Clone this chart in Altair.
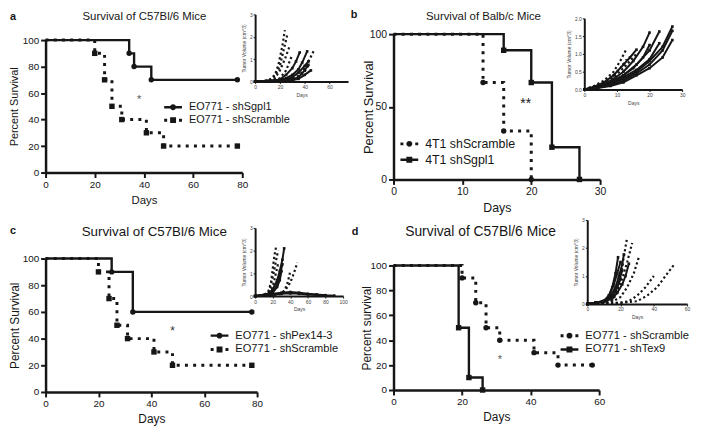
import altair as alt
import pandas as pd

# ---------------- data ----------------
A_SERIES = ["EO771 - shSgpl1", "EO771 - shScramble"]
A_SGPL1_DAYS = [0, 34, 36, 43, 78]
A_SGPL1_SURV = [100, 90, 80, 70, 70]
A_SCRAMBLE_DAYS = [0, 20, 24, 27, 31, 41, 48, 78]
A_SCRAMBLE_SURV = [100, 90, 70, 50, 40, 30, 20, 20]
A_STAR = {"day": [38], "surv": [55], "t": ["*"]}

B_SERIES = ["4T1 shScramble", "4T1 shSgpl1"]
B_SCRAMBLE_DAYS = [0, 13, 16, 20]
B_SCRAMBLE_SURV = [100, 66.7, 33.3, 0]
B_SGPL1_DAYS = [0, 16, 20, 23, 27]
B_SGPL1_SURV = [100, 88.9, 66.7, 22.2, 0]
B_STAR = {"day": [19.2], "surv": [52], "t": ["**"]}

C_SERIES = ["EO771 - shPex14-3", "EO771 - shScramble"]
C_PEX_DAYS = [0, 25, 33, 78]
C_PEX_SURV = [100, 90, 60, 60]
C_SCRAMBLE_DAYS = [0, 20, 24, 27, 31, 41, 48, 78]
C_SCRAMBLE_SURV = [100, 90, 70, 50, 40, 30, 20, 20]
C_STAR = {"day": [48], "surv": [46], "t": ["*"]}

D_SERIES = ["EO771 - shScramble", "EO771 - shTex9"]
D_SCRAMBLE_DAYS = [0, 20, 24, 27, 31, 41, 48, 58]
D_SCRAMBLE_SURV = [100, 90, 70, 50, 40, 30, 20, 20]
D_TEX9_DAYS = [0, 19, 22, 26]
D_TEX9_SURV = [100, 50, 10, 0]
D_STAR = {"day": [31], "surv": [24], "t": ["*"]}

A_X_TICKS = [0, 20, 40, 60, 80]
B_X_TICKS = [0, 10, 20, 30]
C_X_TICKS = [0, 20, 40, 60, 80]
D_X_TICKS = [0, 20, 40, 60]
PCT_TICKS = [0, 20, 40, 60, 80, 100]
B_Y_TICKS = [0, 50, 100]

# inset tumour-growth curves: (days, volume cm^3)
INSET_A_SOLID = [
    ([0, 10, 15, 20, 25, 30, 33, 36], [0, 0.02, 0.05, 0.1, 0.3, 0.6, 0.9, 1.3]),
    ([0, 10, 20, 25, 30, 35, 38, 42], [0, 0.03, 0.08, 0.15, 0.3, 0.55, 0.85, 1.35]),
    ([0, 10, 20, 25, 30, 35, 40, 43], [0, 0.02, 0.05, 0.1, 0.2, 0.4, 0.7, 0.9]),
    ([0, 10, 20, 30, 35, 40, 43], [0, 0.02, 0.04, 0.1, 0.2, 0.5, 0.75]),
    ([0, 10, 20, 30, 35, 40, 45], [0, 0.02, 0.03, 0.06, 0.12, 0.3, 0.5]),
]
INSET_A_DOTTED = [
    ([0, 8, 12, 16, 19, 22, 24], [0, 0.03, 0.1, 0.3, 0.8, 1.6, 2.3]),
    ([0, 8, 12, 16, 20, 23, 26], [0, 0.03, 0.08, 0.25, 0.7, 1.4, 2.1]),
    ([0, 8, 12, 16, 20, 24, 28], [0, 0.02, 0.06, 0.15, 0.5, 1.0, 1.6]),
    ([0, 10, 15, 20, 25, 30], [0, 0.02, 0.05, 0.15, 0.5, 1.2]),
    ([0, 10, 20, 30, 36, 40, 44, 48], [0, 0.02, 0.05, 0.1, 0.3, 0.6, 1.0, 1.45]),
    ([0, 10, 20, 30, 35, 40, 44], [0, 0.02, 0.04, 0.1, 0.2, 0.45, 0.8]),
]
INSET_B_SOLID = [
    ([0, 3, 6, 9, 12, 14, 16], [0, 0.08, 0.2, 0.4, 0.7, 0.9, 1.12]),
    ([0, 3, 6, 9, 12, 15, 18, 20], [0, 0.05, 0.15, 0.3, 0.5, 0.8, 1.2, 1.6]),
    ([0, 3, 6, 9, 12, 15, 18, 20], [0, 0.05, 0.12, 0.25, 0.4, 0.6, 0.9, 1.25]),
    ([0, 4, 8, 12, 16, 20, 23], [0, 0.07, 0.2, 0.4, 0.7, 1.1, 1.63]),
    ([0, 4, 8, 12, 16, 20, 23], [0, 0.05, 0.15, 0.35, 0.55, 0.85, 1.3]),
    ([0, 4, 8, 12, 16, 20, 24, 27], [0, 0.05, 0.15, 0.3, 0.5, 0.8, 1.2, 1.77]),
    ([0, 4, 8, 12, 16, 20, 24, 27], [0, 0.05, 0.12, 0.25, 0.45, 0.7, 1.1, 1.65]),
    ([0, 4, 8, 12, 16, 20, 24, 27], [0, 0.04, 0.1, 0.2, 0.4, 0.6, 0.9, 1.39]),
]
INSET_B_DOTTED = [
    ([0, 3, 6, 9, 11, 13], [0, 0.1, 0.25, 0.5, 0.8, 1.15]),
    ([0, 3, 6, 9, 12, 14, 16], [0, 0.06, 0.18, 0.35, 0.6, 0.8, 1.0]),
    ([0, 3, 6, 9, 12, 13], [0, 0.08, 0.2, 0.4, 0.7, 0.85]),
]
INSET_C_SOLID = [
    ([0, 10, 15, 20, 25, 28, 31, 33], [0, 0.05, 0.1, 0.3, 0.7, 1.1, 1.6, 2.1]),
    ([0, 10, 15, 20, 25, 28, 31], [0, 0.04, 0.08, 0.2, 0.5, 0.9, 1.4]),
    ([0, 10, 15, 20, 25, 28, 30], [0, 0.03, 0.07, 0.15, 0.4, 0.7, 1.1]),
    ([0, 10, 20, 30, 40, 50, 60, 70, 80, 90], [0, 0.05, 0.1, 0.15, 0.18, 0.15, 0.1, 0.07, 0.04, 0.02]),
    ([0, 10, 20, 30, 40, 50, 60, 70, 80], [0, 0.03, 0.06, 0.1, 0.12, 0.1, 0.07, 0.05, 0.03]),
]
INSET_C_DOTTED = [
    ([0, 10, 15, 18, 20, 22, 24], [0, 0.05, 0.2, 0.6, 1.2, 1.8, 2.2]),
    ([0, 10, 15, 18, 21, 24, 26], [0, 0.04, 0.15, 0.5, 1.0, 1.6, 2.0]),
    ([0, 10, 15, 20, 23, 26], [0, 0.03, 0.1, 0.4, 0.9, 1.4]),
    ([0, 20, 30, 35, 40, 44, 48], [0, 0.05, 0.1, 0.3, 0.6, 1.0, 1.47]),
    ([0, 20, 30, 34, 37, 40], [0, 0.05, 0.1, 0.3, 0.6, 1.1]),
]
INSET_D_SOLID = [
    ([0, 5, 10, 13, 15, 17, 18.5], [0, 0.05, 0.1, 0.3, 0.6, 1.1, 1.67]),
    ([0, 5, 10, 14, 17, 19, 21, 22], [0, 0.05, 0.1, 0.3, 0.6, 1.0, 1.4, 1.77]),
    ([0, 5, 10, 15, 18, 21, 23, 25], [0, 0.04, 0.08, 0.2, 0.4, 0.7, 1.0, 1.44]),
    ([0, 5, 10, 13, 16, 18, 20], [0, 0.05, 0.12, 0.3, 0.7, 1.1, 1.5]),
    ([0, 5, 10, 14, 17, 19, 21], [0, 0.03, 0.08, 0.2, 0.45, 0.8, 1.2]),
    ([0, 5, 10, 15, 18, 20], [0, 0.04, 0.1, 0.25, 0.6, 0.9]),
]
INSET_D_DOTTED = [
    ([0, 10, 15, 18, 20, 22, 24], [0, 0.05, 0.15, 0.5, 1.0, 1.7, 2.38]),
    ([0, 10, 15, 18, 21, 24, 27], [0, 0.04, 0.12, 0.4, 0.9, 1.5, 2.18]),
    ([0, 10, 15, 20, 24, 28, 31], [0, 0.03, 0.08, 0.25, 0.6, 1.1, 1.67]),
    ([0, 10, 20, 25, 30, 35, 40], [0, 0.03, 0.05, 0.1, 0.3, 0.6, 1.0]),
    ([0, 10, 20, 30, 36, 42, 47, 52], [0, 0.02, 0.04, 0.1, 0.3, 0.6, 1.0, 1.39]),
]
INSET_A_X_TICKS = [0, 20, 40, 60]
INSET_B_X_TICKS = [0, 10, 20, 30]
INSET_C_X_TICKS = [0, 20, 40, 60, 80, 100]
INSET_D_X_TICKS = [0, 20, 40, 60]
INSET_Y_TICKS = [0, 1, 2, 3]
INSET_B_Y_TICKS = [0, 0.5, 1.0, 1.5, 2.0]

# ---------------- layout helpers ----------------
OX, OY = 8, 8
W, H = 696, 422
FONT = "Liberation Sans"
INK = "#161616"
SOFT = "#444444"


def px(v):
    return v - OX


def py(v):
    return v - OY


def sx(domain, p0, p1):
    return alt.Scale(domain=domain, range=[px(p0), px(p1)], nice=False, zero=False)


def sy(domain, pb, pt):
    return alt.Scale(domain=domain, range=[py(pb), py(pt)], nice=False, zero=False)


def main_x_axis(ay, values, tsize=12, lsize=10):
    return alt.Axis(orient="bottom", offset=py(ay) - H, values=values, title="Days",
                    grid=False, domainColor=INK, domainWidth=2.5, tickColor=INK,
                    tickWidth=2, tickSize=5, labelFont=FONT, labelFontSize=lsize,
                    labelColor=INK, labelPadding=2, labelFlush=False, labelOverlap=False,
                    titleFont=FONT, titleFontSize=tsize, titleFontWeight="normal",
                    titleColor=INK, titlePadding=5)


def main_y_axis(ax, values, title, title_center_x, tsize=12, lsize=10):
    # title centre given in page pixels; titleX is relative to the axis line
    return alt.Axis(orient="left", offset=-px(ax), values=values, title=title,
                    grid=False, domainColor=INK, domainWidth=2.5, tickColor=INK,
                    tickWidth=2, tickSize=5, labelFont=FONT, labelFontSize=lsize,
                    labelColor=INK, labelPadding=2, labelOverlap=False,
                    titleFont=FONT, titleFontSize=tsize, titleFontWeight="normal",
                    titleColor=INK, titleX=title_center_x - ax, titleBaseline="middle")


def inset_x_axis(ay, values):
    return alt.Axis(orient="bottom", offset=py(ay) - H, values=values, title="Days",
                    grid=False, domainColor=INK, domainWidth=2, tickColor=INK,
                    tickWidth=1, tickSize=2, labelFont=FONT, labelFontSize=5,
                    labelColor=SOFT, labelPadding=1, labelFlush=False, labelOverlap=False,
                    titleFont=FONT, titleFontSize=5, titleFontWeight="normal",
                    titleColor=SOFT, titlePadding=3)


def inset_y_axis(ax, values, fmt="d"):
    return alt.Axis(orient="left", offset=-px(ax), values=values,
                    title="Tumor Volume (cm^3)", format=fmt,
                    grid=False, domainColor=INK, domainWidth=2, tickColor=INK,
                    tickWidth=1, tickSize=2, labelFont=FONT, labelFontSize=5,
                    labelColor=SOFT, labelPadding=1, labelOverlap=False,
                    titleFont=FONT, titleFontSize=5, titleFontWeight="normal",
                    titleColor=SOFT, titlePadding=3)


# legend symbols: line + marker, as custom SVG paths (unit = sqrt(size)/2 px)
SYM_SIZE = 256
R = (SYM_SIZE ** 0.5) / 2


def _f(v):
    return f"{v / R:.4f}"


def rect_path(x0, y0, x1, y1):
    return f"M{_f(x0)},{_f(y0)}H{_f(x1)}V{_f(y1)}H{_f(x0)}Z"


def circle_path(cx, rr):
    return (f"M{_f(cx + rr)},0A{_f(rr)},{_f(rr)},0,1,1,{_f(cx - rr)},0"
            f"A{_f(rr)},{_f(rr)},0,1,1,{_f(cx + rr)},0Z")


SOLID_CIRCLE = rect_path(-9, -1.2, 9, 1.2) + circle_path(0, 3)
SOLID_SQUARE = rect_path(-9, -1.2, 9, 1.2) + rect_path(-3, -3, 3, 3)
DOTTED_CIRCLE = rect_path(-9, -1.5, -6, 1.5) + circle_path(0, 3) + rect_path(6, -1.5, 9, 1.5)
DOTTED_SQUARE = rect_path(-9, -1.5, -6, 1.5) + rect_path(-3, -3, 3, 3) + rect_path(6, -1.5, 9, 1.5)

DUMMY = alt.Data(values=[{"a": 1}])


def km_layers(xs, ys, xaxis, yaxis, series, star, legend_names, legend_paths,
              legend_left, legend_row1, legend_font, row_pad=0, star_size=12, star_color=INK):
    layers = []
    first = True
    for s in series:
        df = pd.DataFrame({"day": s["days"], "surv": s["surv"]})
        kw = dict(interpolate="step-after", color=INK, strokeCap="butt")
        if s["dotted"]:
            kw.update(strokeWidth=3, strokeDash=[3, 5.3])
        else:
            kw.update(strokeWidth=2.4)
        layers.append(alt.Chart(df).mark_line(**kw).encode(
            x=alt.X("day:Q", scale=xs, axis=xaxis if first else None),
            y=alt.Y("surv:Q", scale=ys, axis=yaxis if first else None)))
        first = False
    for s in series:
        df = pd.DataFrame({"day": s["days"][1:], "surv": s["surv"][1:]})
        layers.append(alt.Chart(df).mark_point(
            shape=s["shape"], filled=True, size=30, color=INK, opacity=1).encode(
            x=alt.X("day:Q", scale=xs, axis=None),
            y=alt.Y("surv:Q", scale=ys, axis=None)))
    layers.append(alt.Chart(pd.DataFrame(star)).mark_text(
        font=FONT, fontSize=star_size, color=star_color, baseline="middle").encode(
        x=alt.X("day:Q", scale=xs, axis=None),
        y=alt.Y("surv:Q", scale=ys, axis=None),
        text="t:N"))
    leg = alt.Legend(orient="none", legendX=px(legend_left), legendY=py(legend_row1 - 8),
                     title=None, padding=0, rowPadding=row_pad, symbolSize=SYM_SIZE,
                     symbolStrokeWidth=0, symbolOffset=1, labelOffset=8,
                     symbolFillColor=INK, symbolOpacity=1,
                     labelFont=FONT, labelFontSize=legend_font, labelColor=INK,
                     labelLimit=300)
    layers.append(alt.Chart(pd.DataFrame({"s": legend_names})).transform_filter("false")
                  .mark_point(filled=True, opacity=1, color=INK, size=SYM_SIZE)
                  .encode(shape=alt.Shape("s:N", scale=alt.Scale(domain=legend_names,
                                                                 range=legend_paths),
                                          legend=leg)))
    return layers


def curves_df(curves):
    rows = []
    for i, (ds, vs) in enumerate(curves):
        for d, v in zip(ds, vs):
            rows.append({"id": i, "day": d, "vol": v})
    return pd.DataFrame(rows)


def inset_layers(xs, ys, xaxis, yaxis, solid, dotted):
    sd = curves_df(solid)
    dd = curves_df(dotted)
    l1 = alt.Chart(dd).mark_line(color=INK, strokeWidth=2.2, strokeDash=[2.2, 2.6],
                                 strokeCap="butt").encode(
        x=alt.X("day:Q", scale=xs, axis=xaxis),
        y=alt.Y("vol:Q", scale=ys, axis=yaxis),
        detail="id:N")
    l2 = alt.Chart(sd).mark_line(color=INK, strokeWidth=2).encode(
        x=alt.X("day:Q", scale=xs, axis=None),
        y=alt.Y("vol:Q", scale=ys, axis=None),
        detail="id:N")
    p2 = alt.Chart(sd).mark_point(shape="square", filled=True, size=7, color=INK,
                                  opacity=1).encode(
        x=alt.X("day:Q", scale=xs, axis=None),
        y=alt.Y("vol:Q", scale=ys, axis=None))
    return [l1, l2, p2]


def text(t, x, y, size, weight="normal", color=INK):
    return alt.Chart(DUMMY).mark_text(font=FONT, fontSize=size, fontWeight=weight,
                                      color=color, align="center", baseline="middle").encode(
        x=alt.value(px(x)), y=alt.value(py(y)), text=alt.value(t))


# ---------------- panels ----------------
layers = []
layers += km_layers(
    sx([0, 80], 46, 245), sy([0, 100], 172, 38),
    main_x_axis(172, A_X_TICKS, tsize=11.5),
    main_y_axis(46, PCT_TICKS, "Percent Survival", 15, tsize=11),
    [dict(days=A_SCRAMBLE_DAYS, surv=A_SCRAMBLE_SURV, dotted=True, shape="square"),
     dict(days=A_SGPL1_DAYS, surv=A_SGPL1_SURV, dotted=False, shape="circle")],
    A_STAR, A_SERIES, [SOLID_CIRCLE, DOTTED_SQUARE], 166, 106, 11, row_pad=0,
    star_size=11, star_color="#555555")
layers += inset_layers(sx([0, 75], 258, 352), sy([0, 3], 80, 12),
                       inset_x_axis(80, INSET_A_X_TICKS), inset_y_axis(258, INSET_Y_TICKS),
                       INSET_A_SOLID, INSET_A_DOTTED)

layers += km_layers(
    sx([0, 30], 398, 607), sy([0, 100], 179, 32),
    main_x_axis(179, B_X_TICKS, tsize=12.5, lsize=10.5),
    main_y_axis(398, B_Y_TICKS, "Percent Survival", 373, tsize=13, lsize=10.5),
    [dict(days=B_SCRAMBLE_DAYS, surv=B_SCRAMBLE_SURV, dotted=True, shape="circle"),
     dict(days=B_SGPL1_DAYS, surv=B_SGPL1_SURV, dotted=False, shape="square")],
    B_STAR, B_SERIES, [DOTTED_CIRCLE, SOLID_SQUARE], 405, 143, 12.5, row_pad=1,
    star_size=14)
layers += inset_layers(sx([0, 30], 591, 690), sy([0, 2], 88, 16),
                       inset_x_axis(88, INSET_B_X_TICKS), inset_y_axis(591, INSET_B_Y_TICKS, ".1f"),
                       INSET_B_SOLID, INSET_B_DOTTED)

layers += km_layers(
    sx([0, 80], 46, 260), sy([0, 100], 394, 259),
    main_x_axis(394, C_X_TICKS),
    main_y_axis(46, PCT_TICKS, "Percent Survival", 15),
    [dict(days=C_SCRAMBLE_DAYS, surv=C_SCRAMBLE_SURV, dotted=True, shape="square"),
     dict(days=C_PEX_DAYS, surv=C_PEX_SURV, dotted=False, shape="circle")],
    C_STAR, C_SERIES, [SOLID_CIRCLE, DOTTED_SQUARE], 213, 337, 11.2, row_pad=0,
    star_size=12, star_color="#333333")
layers += inset_layers(sx([0, 100], 258, 347), sy([0, 3], 297, 228),
                       inset_x_axis(297, INSET_C_X_TICKS), inset_y_axis(258, INSET_Y_TICKS),
                       INSET_C_SOLID, INSET_C_DOTTED)

layers += km_layers(
    sx([0, 60], 398, 606), sy([0, 100], 392, 266),
    main_x_axis(392, D_X_TICKS),
    main_y_axis(398, PCT_TICKS, "Percent survival", 371),
    [dict(days=D_SCRAMBLE_DAYS, surv=D_SCRAMBLE_SURV, dotted=True, shape="circle"),
     dict(days=D_TEX9_DAYS, surv=D_TEX9_SURV, dotted=False, shape="square")],
    D_STAR, D_SERIES, [DOTTED_CIRCLE, SOLID_SQUARE], 567, 337, 11.3, row_pad=0,
    star_size=11, star_color="#555555")
layers += inset_layers(sx([0, 60], 594, 695), sy([0, 3], 305, 220),
                       inset_x_axis(305, INSET_D_X_TICKS), inset_y_axis(594, INSET_Y_TICKS),
                       INSET_D_SOLID, INSET_D_DOTTED)

layers += [
    text("Survival of C57Bl/6 Mice", 146, 15, 11.5),
    text("Survival of Balb/c Mice", 489, 15, 11.5),
    text("Survival of C57Bl/6 Mice", 156, 232, 13.5),
    text("Survival of C57Bl/6 Mice", 486, 232, 14),
    text("a", 13, 15, 11, "bold"),
    text("b", 358, 13, 11, "bold"),
    text("c", 13, 231, 11, "bold"),
    text("d", 359, 232, 11, "bold"),
]

chart = (
    alt.layer(*layers)
    .resolve_scale(x="independent", y="independent", shape="independent")
    .resolve_legend(shape="independent")
    .properties(width=W, height=H, padding=0, autosize=alt.AutoSizeParams(type="none"),
                background="white")
    .configure_view(strokeWidth=0)
)

chart.save("out.html", embed_options={"renderer": "svg", "actions": False})
